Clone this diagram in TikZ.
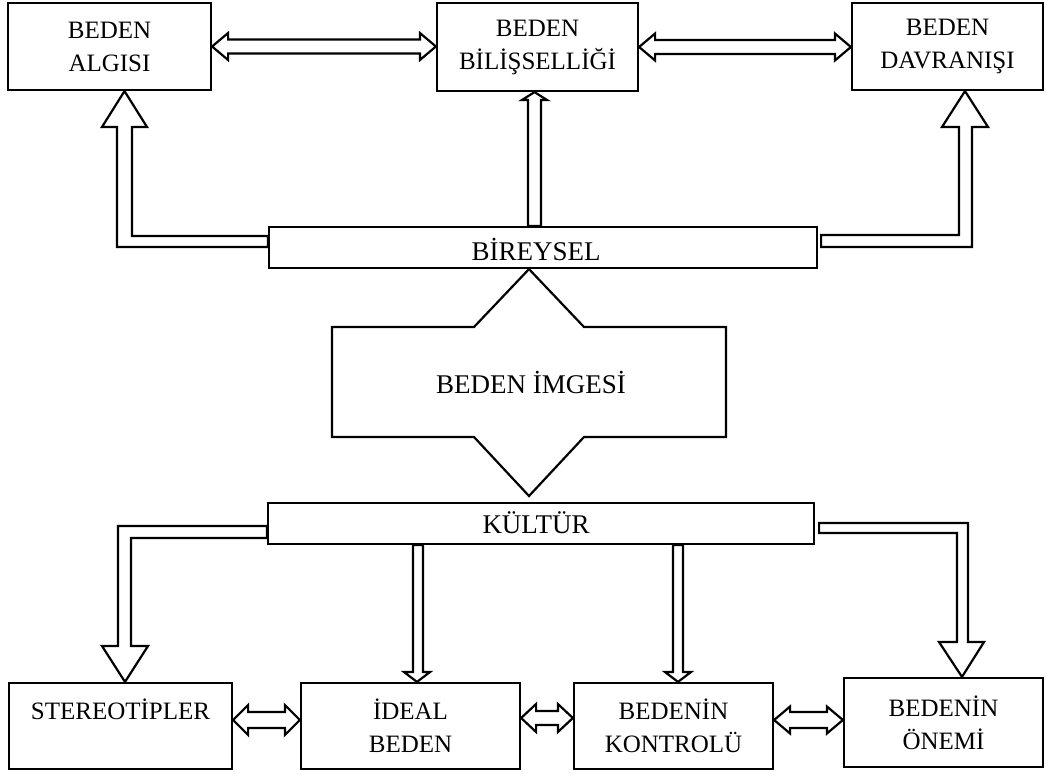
\documentclass[tikz,border=0pt]{standalone}
\usepackage{fontspec}
\setmainfont{Liberation Serif}
\usetikzlibrary{calc}
\newcommand\hdbl[5]{% #1 left point, #2 right point, #3 shaft half, #4 head half, #5 head length
 \draw[blockarrow] let \p1=(#1), \p2=(#2) in
  (\x1,\y1) -- (\x1+#5pt,\y1+#4pt) -- (\x1+#5pt,\y1+#3pt) -- (\x2-#5pt,\y1+#3pt) -- (\x2-#5pt,\y1+#4pt) -- (\x2,\y1)
  -- (\x2-#5pt,\y1-#4pt) -- (\x2-#5pt,\y1-#3pt) -- (\x1+#5pt,\y1-#3pt) -- (\x1+#5pt,\y1-#4pt) -- cycle;}
\begin{document}
\begin{tikzpicture}[x=1pt,y=-1pt,
 box/.style={draw,line width=2.2pt,inner sep=0pt,align=center,fill=white,font=\fontsize{25}{33}\selectfont},
 lbl/.style={inner sep=0pt,align=center,font=\fontsize{27}{33}\selectfont},
 blockarrow/.style={draw,line width=2.2pt,fill=white,line join=miter}]
\useasboundingbox (0,0) rectangle (1046,775);
\fill[white] (0,0) rectangle (1046,775);

% boxes
\node[box,minimum width=203pt,minimum height=87pt] (algisi) at (109.5,46.5) {BEDEN\\ALGISI};
\node[box,minimum width=201pt,minimum height=88pt] (bilis) at (537.5,47) {BEDEN\\BİLİŞSELLİĞİ};
\node[box,minimum width=191pt,minimum height=87pt] (davr) at (947.5,46.5) {BEDEN\\DAVRANIŞI};
\node[box,minimum width=548pt,minimum height=41pt] (bireysel) at (543,247.5) {};
\node[box,minimum width=546pt,minimum height=41pt] (kultur) at (541,523.5) {};
\node[box,minimum width=223pt,minimum height=86pt] (stereo) at (120.5,726) {STEREOTİPLER\\\mbox{}};
\node[box,minimum width=219pt,minimum height=86pt] (ideal) at (410.5,726) {İDEAL\\BEDEN};
\node[box,minimum width=199pt,minimum height=86pt] (kontrol) at (673.5,726) {BEDENİN\\KONTROLÜ};
\node[box,minimum width=199pt,minimum height=89pt] (onem) at (943.5,722.5) {BEDENİN\\ÖNEMİ};

\node[lbl] (bireyselt) at (536,249) {BİREYSEL};
\node[lbl] (kulturt) at (536,523) {KÜLTÜR};

% central double-headed block
\draw[blockarrow] (529,0 |- bireysel.south) -- (584,327) -- (726,327) -- (726,437) -- (584,437)
  -- (529,496) -- (474,437) -- (332,437) -- (332,327) -- (474,327) -- cycle;
\node[lbl] (imge) at (531,382) {BEDEN İMGESİ};

% BİREYSEL -> top boxes
\draw[blockarrow] (bireysel.west |- 0,236) -- (132,236) -- (132,127) -- (147,127) -- (124.5,0 |- algisi.south)
  -- (102,127) -- (117,127) -- (117,247) -- (bireysel.west |- 0,247) -- cycle;
\draw[blockarrow] (528,0 |- bireysel.north) -- (528,100) -- (522,100) -- (534.5,0 |- bilis.south)
  -- (547,100) -- (541,100) -- (541,0 |- bireysel.north) -- cycle;
\draw[blockarrow] ([xshift=3pt]bireysel.east |- 0,235) -- (959,235) -- (959,127) -- (942,127) -- (965,0 |- davr.south)
  -- (988,127) -- (972,127) -- (972,247) -- ([xshift=3pt]bireysel.east |- 0,247) -- cycle;

% KÜLTÜR -> bottom boxes
\draw[blockarrow] (kultur.west |- 0,526) -- (118,526) -- (118,646) -- (102,646) -- (125,0 |- stereo.north)
  -- (148,646) -- (131,646) -- (131,538) -- (kultur.west |- 0,538) -- cycle;
\draw[blockarrow] (413,0 |- kultur.south) -- (413,672) -- (404,672) -- (417,0 |- ideal.north)
  -- (430,672) -- (423,672) -- (423,0 |- kultur.south) -- cycle;
\draw[blockarrow] (673,0 |- kultur.south) -- (673,672) -- (665,672) -- (678,0 |- kontrol.north)
  -- (691,672) -- (683,672) -- (683,0 |- kultur.south) -- cycle;
\draw[blockarrow] ([xshift=4pt]kultur.east |- 0,523) -- (968,523) -- (968,642) -- (984,642) -- (962,0 |- onem.north)
  -- (939,642) -- (957,642) -- (957,533) -- ([xshift=4pt]kultur.east |- 0,533) -- cycle;

% horizontal double arrows
\hdbl{algisi.east}{bilis.west}{7}{13.5}{16}
\hdbl{bilis.east}{davr.west}{7}{13.5}{16}
\hdbl{[yshift=6pt]stereo.east}{ideal.west}{8}{15}{15}
\hdbl{[yshift=8pt]ideal.east}{kontrol.west}{7}{14}{15}
\hdbl{[yshift=6pt]kontrol.east}{onem.west}{8}{13.5}{16}
\end{tikzpicture}
\end{document}
